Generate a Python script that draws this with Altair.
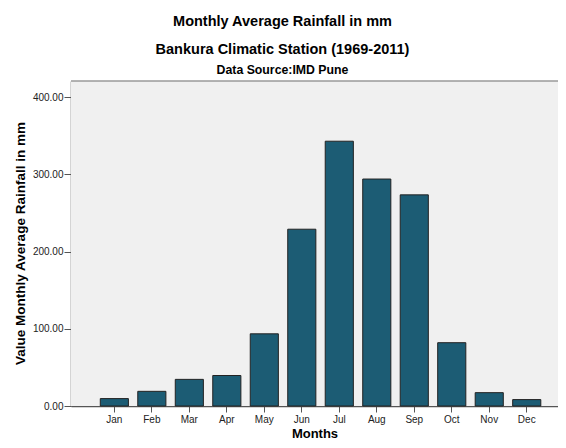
import altair as alt
import pandas as pd

months = ["Jan", "Feb", "Mar", "Apr", "May", "Jun", "Jul", "Aug", "Sep", "Oct", "Nov", "Dec"]
rainfall = [9.6, 19.0, 34.5, 39.5, 93.5, 229.0, 343.0, 294.0, 273.5, 82.0, 17.3, 8.3]
y_ticks = [0, 100, 200, 300, 400]

df = pd.DataFrame({"Month": months, "Rainfall": rainfall})

FONT = "Liberation Sans"
W, H = 487, 325

bg = alt.Chart(pd.DataFrame({"a": [0]})).mark_rect(color="#f0f0f0").encode(
    x=alt.value(0), x2=alt.value(W), y=alt.value(0), y2=alt.value(H)
)

bars = alt.Chart(df).mark_bar(color="#1c5c74", stroke="#222222", strokeWidth=1).encode(
    x=alt.X(
        "Month:N",
        sort=months,
        scale=alt.Scale(paddingInner=0.25, paddingOuter=0.62, align=0.63),
        axis=alt.Axis(
            title="Months",
            labelAngle=0,
            labelFont=FONT,
            labelFontSize=10,
            labelColor="#222222",
            labelPadding=2,
            tickSize=6,
            tickColor="#555555",
            domainColor="#555555",
            domainWidth=1.5,
            titleFont=FONT,
            titleFontSize=13,
            titleFontWeight="bold",
            titleColor="black",
            titleY=27,
            titleBaseline="middle",
        ),
    ),
    y=alt.Y(
        "Rainfall:Q",
        scale=alt.Scale(domain=[0, 421], nice=False, zero=True),
        axis=alt.Axis(
            values=y_ticks,
            format=".2f",
            grid=False,
            title="Value Monthly Average Rainfall in mm",
            labelFont=FONT,
            labelFontSize=10,
            labelColor="#222222",
            labelPadding=1,
            tickSize=7,
            tickColor="#555555",
            domainColor="#555555",
            domainWidth=1.5,
            titleFont=FONT,
            titleFontSize=13.5,
            titleFontWeight="bold",
            titleColor="black",
            titleX=-51,
            titleY=162,
            titleAngle=-90,
            titleBaseline="middle",
            titleAlign="center",
        ),
    ),
)

top_line = alt.Chart(pd.DataFrame({"a": [0]})).mark_rule(color="#9a9a9a", strokeWidth=1.5).encode(
    y=alt.value(0)
)

chart = alt.layer(bg, bars, top_line).properties(
    width=W,
    height=H,
    title=alt.Title(
        text=["Monthly Average Rainfall in mm", "Bankura Climatic Station (1969-2011)"],
        subtitle="Data Source:IMD Pune",
        font=FONT,
        fontSize=14.5,
        fontWeight="bold",
        color="black",
        lineHeight=28,
        subtitleFont=FONT,
        subtitleFontSize=12.3,
        subtitleFontWeight="bold",
        subtitleColor="black",
        subtitlePadding=6,
        anchor="middle",
        dx=-32,
        offset=3,
    ),
    autosize=alt.AutoSizeParams(type="none"),
    padding={"left": 63, "top": 73, "right": 0, "bottom": 34},
).configure_view(stroke=None).configure(background="white")

chart.save("out.html", embed_options={"renderer": "svg", "actions": False})
